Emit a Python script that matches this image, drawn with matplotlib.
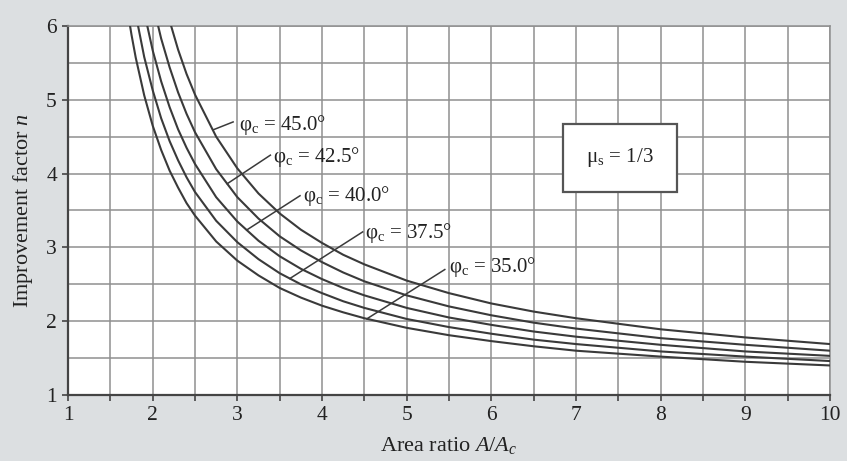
import matplotlib
matplotlib.use("Agg")
import matplotlib.pyplot as plt
from matplotlib.patches import Rectangle
import numpy as np

plt.rcParams['font.family'] = ['Liberation Serif', 'DejaVu Serif']
plt.rcParams['mathtext.fontset'] = 'custom'
plt.rcParams['mathtext.rm'] = 'Liberation Serif'
plt.rcParams['mathtext.it'] = 'Liberation Serif:italic'

# values (area ratio A/Ac -> improvement factor n)
tail_x = [2.5, 2.75, 3.0, 3.25, 3.5, 3.75, 4.0, 4.25, 4.5, 5.0, 5.5,
          6.0, 6.5, 7.0, 8.0, 9.0, 10.0]

x_35 = [1.7, 1.75, 1.8, 1.9, 2.0, 2.1, 2.2, 2.3, 2.4] + tail_x
n_35 = [6.23, 5.88, 5.57, 5.06, 4.65, 4.32, 4.04, 3.81, 3.60,
        3.43, 3.08, 2.82, 2.62, 2.45, 2.32, 2.21, 2.12, 2.04, 1.91, 1.81,
        1.73, 1.66, 1.60, 1.52, 1.45, 1.40]

x_375 = [1.8, 1.9, 2.0, 2.1, 2.2, 2.3, 2.4] + tail_x
n_375 = [6.16, 5.58, 5.13, 4.75, 4.44, 4.18, 3.95,
         3.75, 3.36, 3.07, 2.84, 2.65, 2.50, 2.38, 2.27, 2.18, 2.03, 1.92,
         1.83, 1.75, 1.69, 1.59, 1.52, 1.46]

x_40 = [1.9, 2.0, 2.1, 2.2, 2.3, 2.4] + tail_x
n_40 = [6.19, 5.67, 5.25, 4.90, 4.60, 4.35,
        4.13, 3.68, 3.35, 3.09, 2.88, 2.71, 2.57, 2.45, 2.35, 2.18, 2.05,
        1.95, 1.86, 1.79, 1.68, 1.59, 1.53]

x_425 = [2.0, 2.1, 2.2, 2.3, 2.4] + tail_x
n_425 = [6.31, 5.83, 5.44, 5.10, 4.81,
         4.56, 4.06, 3.68, 3.39, 3.15, 2.96, 2.80, 2.66, 2.54, 2.35, 2.20,
         2.08, 1.98, 1.90, 1.77, 1.68, 1.60]

x_45 = [2.2, 2.3, 2.4] + tail_x
n_45 = [6.07, 5.68, 5.35,
        5.07, 4.50, 4.07, 3.73, 3.46, 3.24, 3.06, 2.90, 2.77, 2.55, 2.38,
        2.24, 2.13, 2.04, 1.89, 1.78, 1.69]

curves = [
    (x_35, n_35, r"$\mathrm{φ_c}$ = 35.0°"),
    (x_375, n_375, r"$\mathrm{φ_c}$ = 37.5°"),
    (x_40, n_40, r"$\mathrm{φ_c}$ = 40.0°"),
    (x_425, n_425, r"$\mathrm{φ_c}$ = 42.5°"),
    (x_45, n_45, r"$\mathrm{φ_c}$ = 45.0°"),
]

# leader line: start x on curve, end point, text position
leaders = [
    (4.53, (5.45, 2.70), (5.50, 2.74)),
    (3.62, (4.48, 3.21), (4.51, 3.19)),
    (3.11, (3.74, 3.70), (3.77, 3.70)),
    (2.88, (3.39, 4.25), (3.42, 4.22)),
    (2.71, (2.95, 4.70), (3.02, 4.66)),
]

line_col = '#3a3a3a'
grid_col = '#8f8f8f'
text_col = '#222222'

fig = plt.figure(figsize=(8.47, 4.61), dpi=100, facecolor='#dcdfe1')
ax = fig.add_axes([0.0803, 0.1432, 0.8997, 0.8004])
ax.set_facecolor('white')

for (xs, ns, lab), (x0, end, tpos) in zip(curves, leaders):
    ax.plot(xs, ns, color=line_col, lw=1.5, zorder=3)
    y0 = np.interp(x0, xs, ns)
    ax.plot([x0, end[0]], [y0, end[1]], color=line_col, lw=1.1, zorder=3)
    ax.text(tpos[0], tpos[1], lab, fontsize=15, ha='left', va='center',
            color=text_col, zorder=4)

ax.add_patch(Rectangle((6.85, 3.75), 1.34, 0.92, facecolor='white',
                       edgecolor='#555555', lw=1.6, zorder=4))
ax.text(7.52, 4.22, r"$\mathrm{μ_s}$ = 1/3", fontsize=15, ha='center',
        va='center', color=text_col, zorder=5)

ax.set_xlim(1, 10)
ax.set_ylim(1, 6)
ax.set_xticks(range(1, 11))
ax.set_xticks(np.arange(1.5, 10, 1.0), minor=True)
ax.set_yticks(range(1, 7))
ax.set_yticks(np.arange(1.5, 6, 1.0), minor=True)
ax.grid(True, which='both', color=grid_col, lw=1.1)
ax.set_axisbelow(True)

ax.tick_params(axis='both', which='major', labelsize=15.5, length=4,
               width=1.2, color='#444444', labelcolor=text_col, pad=4)
ax.tick_params(axis='x', which='minor', length=4, width=1.2, color='#444444')
ax.tick_params(axis='y', which='minor', length=0)

for s in ['left', 'bottom']:
    ax.spines[s].set_color('#444444')
    ax.spines[s].set_linewidth(1.6)
for s in ['top', 'right']:
    ax.spines[s].set_color(grid_col)
    ax.spines[s].set_linewidth(1.1)

ax.set_xlabel(r"Area ratio $A/A_c$", fontsize=16, color=text_col, labelpad=7)
ax.set_ylabel(r"Improvement factor $n$", fontsize=16, color=text_col, labelpad=8)

fig.savefig("out.png", dpi=100, facecolor=fig.get_facecolor())
